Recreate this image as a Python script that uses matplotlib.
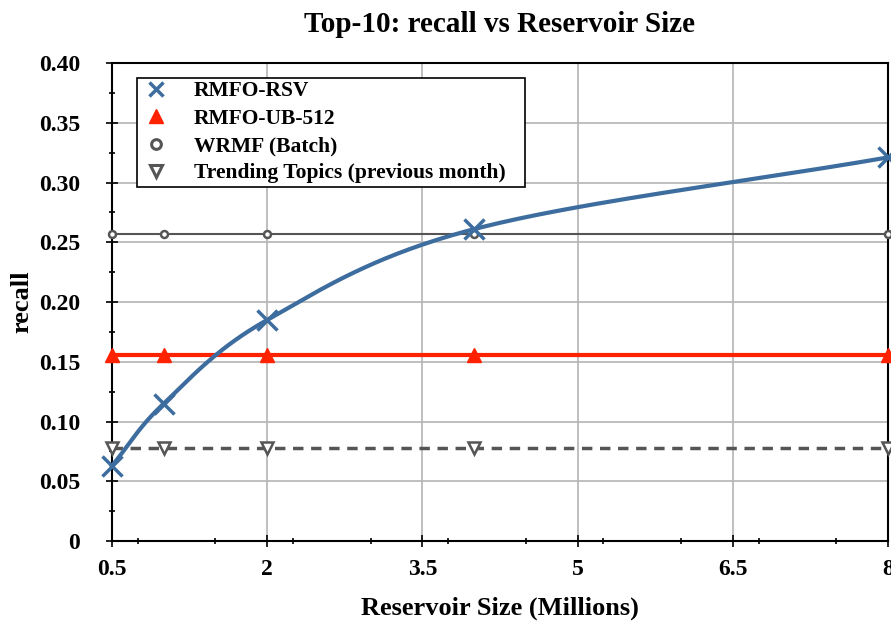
import numpy as np
import matplotlib
matplotlib.use('Agg')
from matplotlib import pyplot as plt
from matplotlib.lines import Line2D
from matplotlib.ticker import MultipleLocator, FuncFormatter

sizes = [0.5, 1, 2, 4, 8]
rsv = [0.063, 0.115, 0.185, 0.261, 0.321]
ub512 = [0.156, 0.156, 0.156, 0.156, 0.156]
wrmf = [0.257, 0.257, 0.257, 0.257, 0.257]
trending = [0.078, 0.078, 0.078, 0.078, 0.078]
x_ticks = [0.5, 2, 3.5, 5, 6.5, 8]
names = ['RMFO-RSV', 'RMFO-UB-512', 'WRMF (Batch)', 'Trending Topics (previous month)']


def smooth(xs, ys, n=40):
    # Catmull-Rom style smoothing like Excel "smoothed line"
    xs = np.asarray(xs, float)
    ys = np.asarray(ys, float)
    px = np.concatenate([[2 * xs[0] - xs[1]], xs, [2 * xs[-1] - xs[-2]]])
    py = np.concatenate([[2 * ys[0] - ys[1]], ys, [2 * ys[-1] - ys[-2]]])
    out_x, out_y = [], []
    t = np.linspace(0, 1, n)
    for i in range(1, len(px) - 2):
        p0, p1, p2, p3 = [np.array([px[j], py[j]]) for j in range(i - 1, i + 3)]
        c1 = p1 + (p2 - p0) / 6
        c2 = p2 - (p3 - p1) / 6
        b = ((1 - t) ** 3)[:, None] * p1 + (3 * (1 - t) ** 2 * t)[:, None] * c1 \
            + (3 * (1 - t) * t ** 2)[:, None] * c2 + (t ** 3)[:, None] * p2
        out_x.extend(b[:, 0])
        out_y.extend(b[:, 1])
    return out_x, out_y


plt.rcParams['font.family'] = 'Liberation Serif'
plt.rcParams['font.weight'] = 'bold'

fig = plt.figure(figsize=(8.91, 6.24), dpi=100)
ax = fig.add_axes([0.1257, 0.133, 0.8709, 0.766])

blue = '#3d6d9e'
red = '#ff2200'
gray = '#555555'

sx, sy = smooth(sizes, rsv)
ax.plot(sx, sy, color=blue, lw=3, clip_on=False, zorder=5)
ax.plot(sizes, rsv, ls='none', marker='x', ms=14, mew=2.5, color=blue, clip_on=False, zorder=6)
ax.plot(sizes, ub512, color=red, lw=3, marker='^', ms=10, clip_on=False, zorder=4)
ax.plot(sizes, wrmf, color=gray, lw=1.5, marker='o', ms=5, mfc='white', mew=1.8, clip_on=False, zorder=4)
ax.plot(sizes, trending, color=gray, lw=2.5, ls=(0, (3, 2.2)), marker='v', ms=9, mfc='white', mew=1.8,
        clip_on=False, zorder=4)

ax.set_xlim(0.5, 8)
ax.set_ylim(0, 0.40)
ax.set_xticks(x_ticks)
ax.xaxis.set_major_formatter(FuncFormatter(lambda v, p: ('%g' % v)))
ax.xaxis.set_minor_locator(MultipleLocator(0.75))
ax.yaxis.set_major_locator(MultipleLocator(0.05))
ax.yaxis.set_minor_locator(MultipleLocator(0.025))
ax.yaxis.set_major_formatter(FuncFormatter(lambda v, p: '0' if abs(v) < 1e-9 else '%.2f' % v))
ax.grid(True, which='major', color='#b4b4b4', lw=1.2)
ax.set_axisbelow(True)
ax.tick_params(which='major', direction='inout', length=8, width=1.2, labelsize=17)
ax.tick_params(which='minor', direction='inout', length=5, width=1.2)
ax.tick_params(axis='y', which='major', pad=19)
ax.tick_params(axis='x', which='major', pad=9)
for s in ax.spines.values():
    s.set_linewidth(1.5)

ax.set_xlabel('Reservoir Size (Millions)', fontsize=19, fontweight='bold', labelpad=12)
ax.set_ylabel('recall', fontsize=19, fontweight='bold', labelpad=4)
ax.set_title('Top-10: recall vs Reservoir Size', fontsize=21, fontweight='bold', pad=22.5)

handles = [
    Line2D([], [], ls='none', marker='x', ms=10, mew=2.5, color=blue),
    Line2D([], [], ls='none', marker='^', ms=10, color=red),
    Line2D([], [], ls='none', marker='o', ms=7, mfc='white', mew=2.2, color=gray),
    Line2D([], [], ls='none', marker='v', ms=9, mfc='white', mew=2.2, color=gray),
]
leg = ax.legend(handles, names, loc='upper left', bbox_to_anchor=(0.032, 0.9686, 0.5, 0.0),
                mode='expand', fontsize=15.5, frameon=True, fancybox=False, edgecolor='black',
                handlelength=1.5, borderpad=0.15, labelspacing=0.34, handletextpad=1.0,
                borderaxespad=0, framealpha=1)
leg.get_frame().set_linewidth(1.2)
leg.set_zorder(10)

plt.savefig('out.png', dpi=100)
